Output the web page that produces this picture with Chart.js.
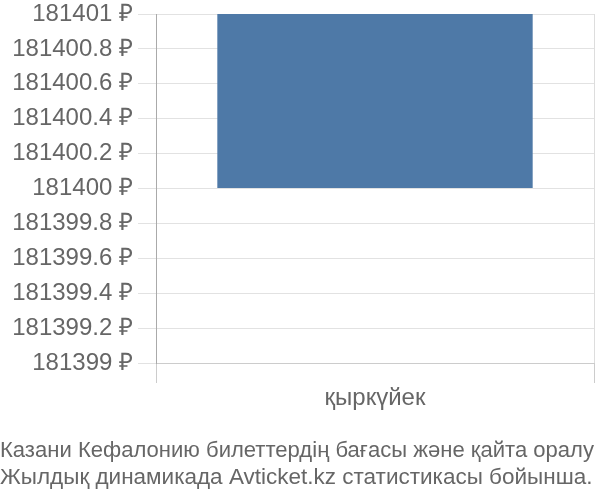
<!DOCTYPE html>
<html>
<head>
<meta charset="utf-8">
<script src="https://cdn.jsdelivr.net/npm/chart.js@4/dist/chart.umd.min.js"></script>
<style>
  html, body { margin: 0; padding: 0; background: #fff; }
</style>
</head>
<body>
<canvas id="myChart" width="600" height="500"></canvas>
<script>
/* Цена билетов по месяцам */
const months = ["қыркүйек"];
const prices = [181401];
const barBase = [181400];
const yMin = 181399;
const yMax = 181401;
const yStep = 0.2;
const titleLines = [
  "Казани Кефалонию билеттердің бағасы және қайта оралу",
  "Жылдық динамикада Avticket.kz статистикасы бойынша."
];

Chart.defaults.font.family = "'Liberation Sans', Arial, sans-serif";
Chart.defaults.color = "#666";

const data = {
  labels: months,
  datasets: [
    {
      data: prices,
      base: barBase[0],
      backgroundColor: "rgb(78, 121, 167)",
      borderWidth: 0,
      barPercentage: 0.72,
      categoryPercentage: 1,
    },
  ],
};

const config = {
  type: "bar",
  data: data,
  options: {
    responsive: false,
    animation: false,
    devicePixelRatio: 1,
    layout: { padding: { top: 0, right: 6, left: 0, bottom: 0 } },
    plugins: {
      legend: { display: false },
      tooltip: { enabled: false },
      title: {
        display: true,
        text: titleLines,
        position: "bottom",
        align: "start",
        color: "#666",
        font: { size: 22.5, weight: "normal" },
        padding: { top: 9, bottom: 9 },
        lineHeight: 1.35,
      },
    },
    scales: {
      x: {
        grid: { offset: true, color: "#ddd", tickLength: 20, tickColor: "#ccc" },
        border: { color: "#ccc" },
        ticks: { font: { size: 24 }, padding: 1, color: "#666" },
        afterFit: function (scale) { scale.height = 65; },
      },
      y: {
        min: yMin,
        max: yMax,
        grid: { color: "#e2e2e2", tickLength: 18, tickColor: "#e2e2e2" },
        border: { color: "#aaa" },
        ticks: {
          stepSize: yStep,
          padding: 5,
          font: { size: 24 },
          color: "#666",
          callback: function (v) {
            return Math.round(v * 10) / 10 + " ₽";
          },
        },
        afterFit: function (scale) {
          scale.width = 156;
          scale.paddingTop = 14;
        },
      },
    },
  },
};

var myChart = new Chart(document.getElementById("myChart"), config);
</script>
</body>
</html>
